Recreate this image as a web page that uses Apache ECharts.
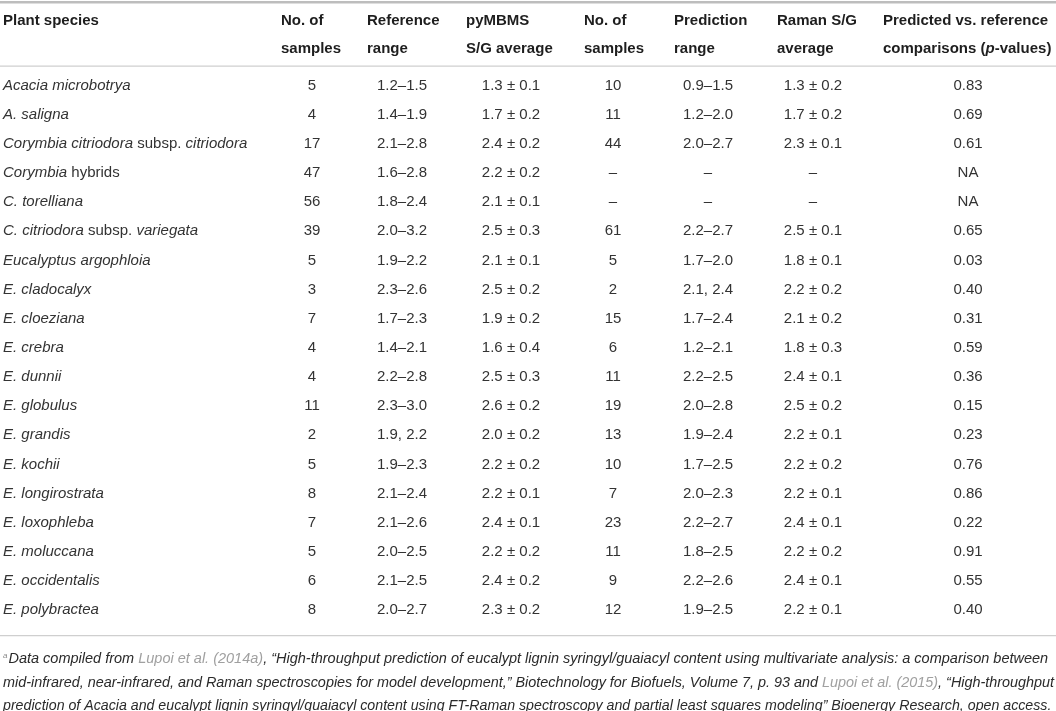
<!DOCTYPE html>
<html>
<head>
<meta charset="utf-8">
<script src="https://cdn.jsdelivr.net/npm/echarts@6/dist/echarts.min.js"></script>
<style>
  html, body { margin: 0; padding: 0; background: #fff; }
  #main { width: 1056px; height: 711px; }
</style>
</head>
<body>
<div id="main"></div>
<script>
// table contents
var species = ['Acacia microbotrya', 'A. saligna', 'Corymbia citriodora subsp. citriodora', 'Corymbia hybrids',
  'C. torelliana', 'C. citriodora subsp. variegata', 'Eucalyptus argophloia', 'E. cladocalyx', 'E. cloeziana',
  'E. crebra', 'E. dunnii', 'E. globulus', 'E. grandis', 'E. kochii', 'E. longirostrata', 'E. loxophleba',
  'E. moluccana', 'E. occidentalis', 'E. polybractea']
var refSamples = [5, 4, 17, 47, 56, 39, 5, 3, 7, 4, 4, 11, 2, 5, 8, 7, 5, 6, 8]
var refRange = ['1.2–1.5', '1.4–1.9', '2.1–2.8', '1.6–2.8', '1.8–2.4', '2.0–3.2', '1.9–2.2', '2.3–2.6', '1.7–2.3',
  '1.4–2.1', '2.2–2.8', '2.3–3.0', '1.9, 2.2', '1.9–2.3', '2.1–2.4', '2.1–2.6', '2.0–2.5', '2.1–2.5', '2.0–2.7']
var refMean = [1.3, 1.7, 2.4, 2.2, 2.1, 2.5, 2.1, 2.5, 1.9, 1.6, 2.5, 2.6, 2.0, 2.2, 2.2, 2.4, 2.2, 2.4, 2.3]
var refSd = [0.1, 0.2, 0.2, 0.2, 0.1, 0.3, 0.1, 0.2, 0.2, 0.4, 0.3, 0.2, 0.2, 0.2, 0.1, 0.1, 0.2, 0.2, 0.2]
var ramanSamples = [10, 11, 44, null, null, 61, 5, 2, 15, 6, 11, 19, 13, 10, 7, 23, 11, 9, 12]
var predRange = ['0.9–1.5', '1.2–2.0', '2.0–2.7', null, null, '2.2–2.7', '1.7–2.0', '2.1, 2.4', '1.7–2.4',
  '1.2–2.1', '2.2–2.5', '2.0–2.8', '1.9–2.4', '1.7–2.5', '2.0–2.3', '2.2–2.7', '1.8–2.5', '2.2–2.6', '1.9–2.5']
var ramanMean = [1.3, 1.7, 2.3, null, null, 2.5, 1.8, 2.2, 2.1, 1.8, 2.4, 2.5, 2.2, 2.2, 2.2, 2.4, 2.2, 2.4, 2.2]
var ramanSd = [0.2, 0.2, 0.1, null, null, 0.1, 0.1, 0.2, 0.2, 0.3, 0.1, 0.2, 0.1, 0.2, 0.1, 0.1, 0.2, 0.1, 0.1]
var pValues = ['0.83', '0.69', '0.61', 'NA', 'NA', '0.65', '0.03', '0.40', '0.31', '0.59', '0.36', '0.15', '0.23',
  '0.76', '0.86', '0.22', '0.91', '0.55', '0.40']
var headers = ['Plant species', 'No. of\nsamples', 'Reference\nrange', 'pyMBMS\nS/G average', 'No. of\nsamples',
  'Prediction\nrange', 'Raman S/G\naverage', 'Predicted vs. reference\ncomparisons ({bi|p}-values)']
var uprightWords = ['subsp.', 'hybrids']

// layout of columns (pixels along the hidden x axis)
var headLeft = [3, 281, 367, 466, 584, 674, 777, 883]
var cellX = [3, 312, 402, 511, 613, 708, 813, 968]
var cellAlign = ['left', 'center', 'center', 'center', 'center', 'center', 'center', 'center']

var DASH = '–'
var FONT = '"Liberation Sans", Arial, Helvetica, sans-serif'
var TEXT = '#333'
var HEAD = '#1e1e1e'
var RULE = '#cfcfcf'

function pm (m, s) {
  if (m == null) return DASH
  return m.toFixed(1) + ' ± ' + s.toFixed(1)
}
function orDash (v) { return v == null ? DASH : String(v) }
function speciesRich (name) {
  return name.split(' ').map(function (w) {
    return uprightWords.indexOf(w) >= 0 ? '{n|' + w + '}' : '{i|' + w + '}'
  }).join('{n| }')
}

var cells = []
species.forEach(function (name, r) {
  var row = [speciesRich(name), String(refSamples[r]), refRange[r], pm(refMean[r], refSd[r]),
    orDash(ramanSamples[r]), orDash(predRange[r]), pm(ramanMean[r], ramanSd[r]), pValues[r]]
  row.forEach(function (txt, c) {
    cells.push({ value: [cellX[c], r, c], label: txt })
  })
})

var graphics = []
// rules
graphics.push({ type: 'rect', shape: { x: 0, y: 1, width: 1056, height: 2.5 }, style: { fill: '#bdbdbd' } })
graphics.push({ type: 'rect', shape: { x: 0, y: 65.5, width: 1056, height: 1.2 }, style: { fill: RULE } })
graphics.push({ type: 'rect', shape: { x: 0, y: 635, width: 1056, height: 1.2 }, style: { fill: RULE } })
// column headers
headers.forEach(function (h, c) {
  var lines = h.split('\n').length
  graphics.push({
    type: 'text', x: headLeft[c], y: 21 + (lines - 1) * 14,
    style: {
      text: h, fill: HEAD, font: 'bold 15px ' + FONT, lineHeight: 28,
      verticalAlign: 'middle', align: 'left',
      rich: { bi: { fontStyle: 'italic', fontWeight: 'bold', fontSize: 15, fontFamily: FONT, fill: HEAD } }
    }
  })
})
// footnote
function noteRich (size) {
  return {
    t: { fontStyle: 'italic', fontSize: size, fontFamily: FONT, fill: '#2a2a2a' },
    l: { fontStyle: 'italic', fontSize: size, fontFamily: FONT, fill: '#a0a0a0' },
    s: { fontStyle: 'italic', fontSize: 8, fontFamily: FONT, fill: '#888', verticalAlign: 'top', padding: [0, 1, 7, 0] }
  }
}
var noteLines = [
  '{s|a}{t|Data compiled from }{l|Lupoi et al. (2014a)}{t|, “High-throughput prediction of eucalypt lignin syringyl/guaiacyl content using multivariate analysis: a comparison between}',
  '{t|mid-infrared, near-infrared, and Raman spectroscopies for model development,” Biotechnology for Biofuels, Volume 7, p. 93 and }{l|Lupoi et al. (2015)}{t|, “High-throughput}',
  '{t|prediction of Acacia and eucalypt lignin syringyl/guaiacyl content using FT-Raman spectroscopy and partial least squares modeling” Bioenergy Research, open access.}'
]
var noteY = [659, 683, 706]
var noteSize = [14.5, 14.4, 14.2]
noteLines.forEach(function (txt, i) {
  graphics.push({
    type: 'text', x: 3, y: noteY[i],
    style: { text: txt, rich: noteRich(noteSize[i]), verticalAlign: 'middle', align: 'left', font: 'italic 14px ' + FONT }
  })
})

var chart = echarts.init(document.getElementById('main'))
chart.setOption({
  animation: false,
  grid: { left: 0, right: 0, top: 70.9, bottom: 86.2 },
  xAxis: { type: 'value', min: 0, max: 1056, show: false },
  yAxis: { type: 'category', data: species, inverse: true, show: false },
  graphic: graphics,
  series: [{
    type: 'custom',
    encode: { x: 0, y: 1 },
    data: cells,
    renderItem: function (params, api) {
      var c = api.value(2)
      var pt = api.coord([api.value(0), api.value(1)])
      return {
        type: 'text',
        x: pt[0], y: pt[1],
        style: {
          text: cells[params.dataIndex].label,
          fill: TEXT,
          font: '15px ' + FONT,
          align: cellAlign[c],
          verticalAlign: 'middle',
          rich: {
            i: { fontStyle: 'italic', fontSize: 15, fontFamily: FONT, fill: TEXT },
            n: { fontSize: 15, fontFamily: FONT, fill: TEXT }
          }
        }
      }
    }
  }]
})
</script>
</body>
</html>
